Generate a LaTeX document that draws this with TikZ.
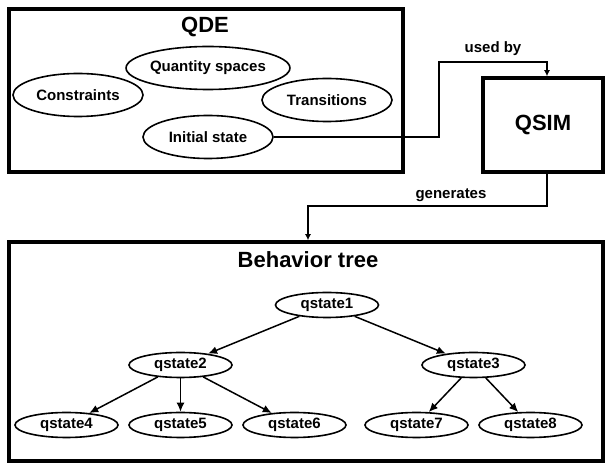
\documentclass[tikz,border=0pt]{standalone}
\usepackage{fontspec}
\setmainfont{Liberation Sans}
\usetikzlibrary{trees,shapes.geometric,arrows.meta}

\begin{document}
\begin{tikzpicture}[x=1pt,y=1pt,
		every node/.style={font=\bfseries\fontsize{15}{17}\selectfont},
		part/.style={ellipse,draw,line width=1.6pt,inner sep=0pt,
			minimum width=130pt,minimum height=43pt},
		state/.style={ellipse,draw,line width=1.6pt,inner sep=0pt,
			minimum width=103pt,minimum height=25pt},
		frame/.style={draw,line width=3.5pt,inner sep=0pt},
		title/.style={font=\bfseries\fontsize{22}{26}\selectfont},
		link/.style={line width=1.3pt,-{Latex[length=6pt,width=6pt]}},
		level distance=60pt,
		level 1/.style={sibling distance=293pt},
		level 2/.style={sibling distance=114pt},
		every child node/.style={state},
		edge from parent/.style={draw,line width=1.5pt,-{Latex[length=9pt,width=8pt]}}]
	\useasboundingbox (0,0) rectangle (606,466);

	% QDE
	\node[frame,minimum width=394pt,minimum height=163pt] (qde) at (206,375.5) {};
	\node[title] (qdetitle) at (205,439) {QDE};
	\node[part] (quant) at (208,398) {Quantity spaces};
	\node[part] (cons) at (78,371) {Constraints};
	\node[part] (trans) at (327,366) {Transitions};
	\node[part] (init) at (208,329) {Initial state};

	% QSIM
	\node[frame,title,minimum width=120pt,minimum height=94pt] (qsim) at (543,341) {QSIM};

	% behavior tree
	\node[frame,minimum width=594pt,minimum height=219pt] (tree) at (306,114.5) {};
	\node[title] (treetitle) at (308,206) {Behavior tree};
	\node[state] (q1) at (327,161) {qstate1}
		child { node (q2) {qstate2}
			child { node (q4) {qstate4}}
			child { node (q5) {qstate5}}
			child { node (q6) {qstate6}}
		}
		child { node (q3) {qstate3}
			child { node (q7) {qstate7}}
			child { node (q8) {qstate8}}
		};

	% connectors
	\coordinate (usedby) at (439,404);
	\coordinate (gen) at (308,260);
	\draw[link] (init.east) -| (usedby) -| ([xshift=4pt]qsim.north);
	\draw[link] ([xshift=4pt]qsim.south) |- (gen) -- (gen |- tree.north);
	\node (usedbylbl) at (493,417) {used by};
	\node (genlbl) at (451,271) {generates};
\end{tikzpicture}
\end{document}
